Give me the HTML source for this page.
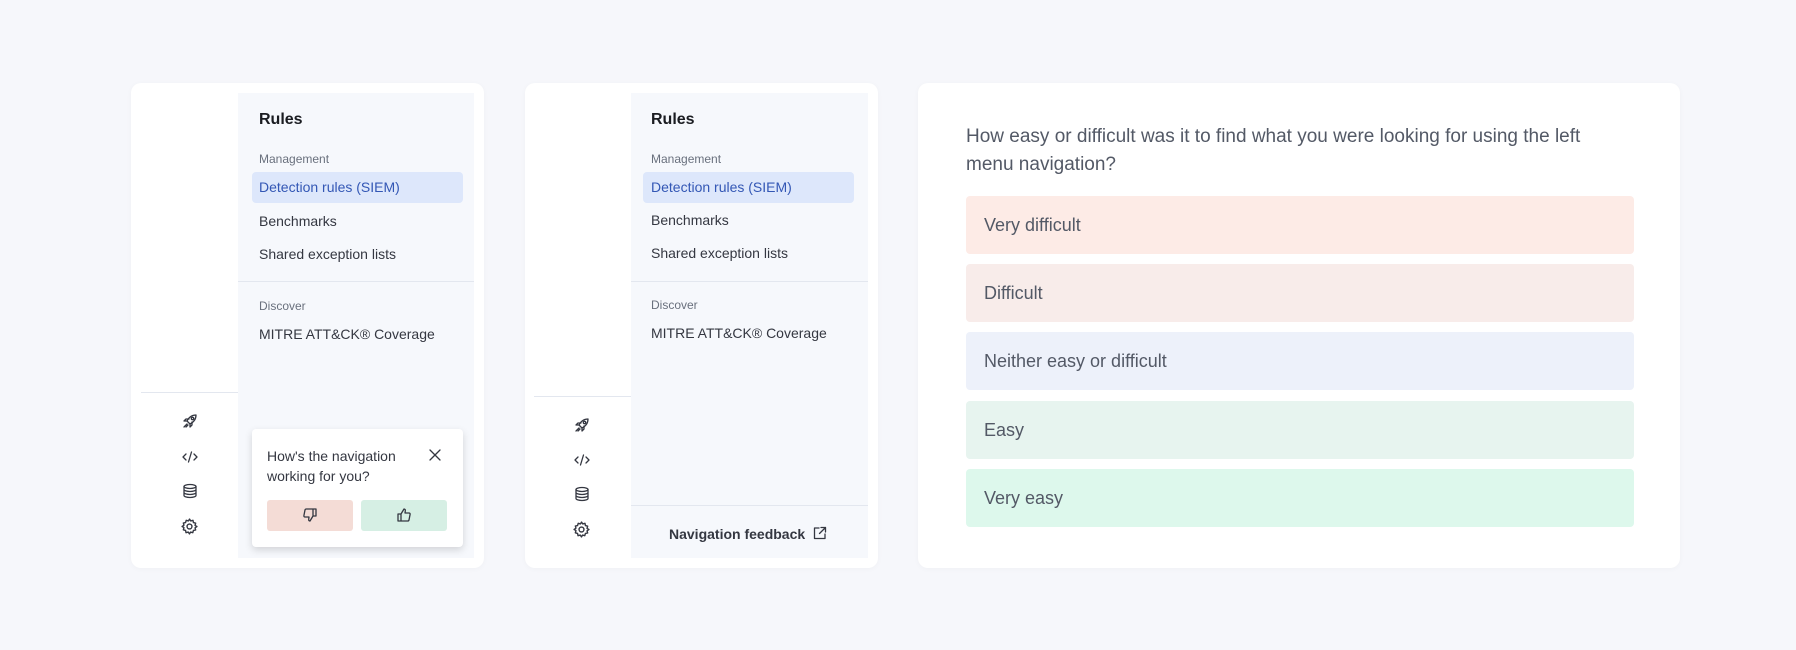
<!DOCTYPE html>
<html><head><meta charset="utf-8"><style>
*{box-sizing:border-box;margin:0;padding:0}
body{width:1796px;height:650px;background:#f6f7fb;font-family:"Liberation Sans",sans-serif;position:relative;overflow:hidden;color:#343741}
.abs{position:absolute}
.card{position:absolute;background:#fff;border-radius:10px;box-shadow:0 1px 6px rgba(0,0,0,.03)}
.panel{position:absolute;background:#f6f8fc}
.t{position:absolute;white-space:nowrap}
svg.ic{position:absolute;fill:none;stroke:#343741;stroke-width:1.3;stroke-linecap:round;stroke-linejoin:round}
.opt{position:absolute;left:966px;width:668px;height:58px;border-radius:4px;font-size:18px;color:#535966;padding-left:18px;line-height:58px}
</style></head><body>
<!-- card 1 -->
<div class="card" style="left:131px;top:83px;width:353px;height:485px"></div>
<div class="panel" style="left:238px;top:93px;width:236px;height:465px"></div>
<div class="t" style="left:259px;top:111px;font-size:16px;font-weight:bold;color:#1a1c21">Rules</div>
<div class="t" style="left:259px;top:152px;font-size:12px;color:#69707d">Management</div>
<div class="abs" style="left:252px;top:172px;width:211px;height:31px;background:#dde7fb;border-radius:4px"></div>
<div class="t" style="left:259px;top:179px;font-size:14px;color:#3357b5">Detection rules (SIEM)</div>
<div class="t" style="left:259px;top:213px;font-size:14px">Benchmarks</div>
<div class="t" style="left:259px;top:246px;font-size:14px">Shared exception lists</div>
<div class="abs" style="left:238px;top:281px;width:236px;height:1px;background:#e3e7ef"></div>
<div class="t" style="left:259px;top:299px;font-size:12px;color:#69707d">Discover</div>
<div class="t" style="left:259px;top:326px;font-size:14px">MITRE ATT&amp;CK® Coverage</div>
<div class="abs" style="left:141px;top:392px;width:97px;height:1px;background:#e3e7ef"></div>
<svg class="ic" style="left:182px;top:413px" width="16" height="16" viewBox="0 0 16 16"><path d="M14 2C10 2 7 4 5 8l3 3c4-2 6-5 6-9z"/><circle cx="10.5" cy="5.5" r="1.2"/><path d="M5 8H2l2-2h3M8 11v3l2-2V9M2 14l3-3M4 14l2-2"/></svg>
<svg class="ic" style="left:182px;top:449px" width="16" height="16" viewBox="0 0 16 16"><path d="M4 5L1 8l3 3M12 5l3 3-3 3M9.5 3l-3 10"/></svg>
<svg class="ic" style="left:182px;top:483px" width="16" height="16" viewBox="0 0 16 16"><ellipse cx="8" cy="3.5" rx="6" ry="2"/><path d="M2 3.5v9c0 1.1 2.7 2 6 2s6-.9 6-2v-9M2 6.5c0 1.1 2.7 2 6 2s6-.9 6-2M2 9.5c0 1.1 2.7 2 6 2s6-.9 6-2"/></svg>
<svg class="ic" style="left:181px;top:518px" width="17" height="17" viewBox="0 0 16 16"><circle cx="8" cy="8" r="2.3"/><path d="M8 1l1.2 1.8 2.1-.6.4 2.1 2.1.6-.6 2.1L15 8l-1.8 1.2.6 2.1-2.1.4-.6 2.1-2.1-.6L8 15l-1.2-1.8-2.1.6-.4-2.1-2.1-.6.6-2.1L1 8l1.8-1.2-.6-2.1 2.1-.4.6-2.1 2.1.6z"/></svg>
<div class="abs" style="left:252px;top:429px;width:211px;height:118px;background:#fff;border-radius:4px;box-shadow:0 3px 8px rgba(0,0,0,.15)"></div>
<div class="t" style="left:267px;top:446px;font-size:14px;line-height:20px">How's the navigation<br>working for you?</div>
<svg class="ic" style="left:429px;top:449px" width="12" height="12" viewBox="0 0 12 12"><path d="M1 1l10 10M11 1L1 11"/></svg>
<div class="abs" style="left:267px;top:500px;width:86px;height:31px;background:#f4dcd6;border-radius:3px"></div>
<svg class="ic" style="left:302px;top:507px" width="16" height="16" viewBox="0 0 16 16"><path d="M11 2v7M11 2h3v7h-3M11 9l-3 5c-1 0-1.5-.8-1.3-1.8L7 10H3c-.8 0-1.3-.7-1.1-1.4L3 3c.2-.6.7-1 1.3-1H11"/></svg>
<div class="abs" style="left:361px;top:500px;width:86px;height:31px;background:#d6efe4;border-radius:3px"></div>
<svg class="ic" style="left:396px;top:507px" width="16" height="16" viewBox="0 0 16 16"><path d="M5 14V7M5 14H2V7h3M5 7l3-5c1 0 1.5.8 1.3 1.8L9 6h4c.8 0 1.3.7 1.1 1.4L13 13c-.2.6-.7 1-1.3 1H5"/></svg>
<!-- card 2 -->
<div class="card" style="left:525px;top:83px;width:353px;height:485px"></div>
<div class="panel" style="left:631px;top:93px;width:237px;height:465px"></div>
<div class="t" style="left:651px;top:111px;font-size:16px;font-weight:bold;color:#1a1c21">Rules</div>
<div class="t" style="left:651px;top:152px;font-size:12px;color:#69707d">Management</div>
<div class="abs" style="left:643px;top:172px;width:211px;height:31px;background:#dde7fb;border-radius:4px"></div>
<div class="t" style="left:651px;top:179px;font-size:14px;color:#3357b5">Detection rules (SIEM)</div>
<div class="t" style="left:651px;top:212px;font-size:14px">Benchmarks</div>
<div class="t" style="left:651px;top:245px;font-size:14px">Shared exception lists</div>
<div class="abs" style="left:631px;top:281px;width:237px;height:1px;background:#e3e7ef"></div>
<div class="t" style="left:651px;top:298px;font-size:12px;color:#69707d">Discover</div>
<div class="t" style="left:651px;top:325px;font-size:14px">MITRE ATT&amp;CK® Coverage</div>
<div class="abs" style="left:534px;top:396px;width:97px;height:1px;background:#e3e7ef"></div>
<svg class="ic" style="left:574px;top:417px" width="16" height="16" viewBox="0 0 16 16"><path d="M14 2C10 2 7 4 5 8l3 3c4-2 6-5 6-9z"/><circle cx="10.5" cy="5.5" r="1.2"/><path d="M5 8H2l2-2h3M8 11v3l2-2V9M2 14l3-3M4 14l2-2"/></svg>
<svg class="ic" style="left:574px;top:452px" width="16" height="16" viewBox="0 0 16 16"><path d="M4 5L1 8l3 3M12 5l3 3-3 3M9.5 3l-3 10"/></svg>
<svg class="ic" style="left:574px;top:486px" width="16" height="16" viewBox="0 0 16 16"><ellipse cx="8" cy="3.5" rx="6" ry="2"/><path d="M2 3.5v9c0 1.1 2.7 2 6 2s6-.9 6-2v-9M2 6.5c0 1.1 2.7 2 6 2s6-.9 6-2M2 9.5c0 1.1 2.7 2 6 2s6-.9 6-2"/></svg>
<svg class="ic" style="left:573px;top:521px" width="17" height="17" viewBox="0 0 16 16"><circle cx="8" cy="8" r="2.3"/><path d="M8 1l1.2 1.8 2.1-.6.4 2.1 2.1.6-.6 2.1L15 8l-1.8 1.2.6 2.1-2.1.4-.6 2.1-2.1-.6L8 15l-1.2-1.8-2.1.6-.4-2.1-2.1-.6.6-2.1L1 8l1.8-1.2-.6-2.1 2.1-.4.6-2.1 2.1.6z"/></svg>
<div class="abs" style="left:631px;top:505px;width:237px;height:1px;background:#e3e7ef"></div>
<div class="t" style="left:669px;top:526px;font-size:14px;font-weight:bold;color:#343741">Navigation feedback</div>
<svg class="ic" style="left:813px;top:526px" width="14" height="14" viewBox="0 0 14 14"><path d="M6 2H1.5v10.5H12V8M8 1.5h4.5V6M12.5 1.5L6.5 7.5"/></svg>
<!-- card 3 -->
<div class="card" style="left:918px;top:83px;width:762px;height:485px"></div>
<div class="t" style="left:966px;top:123px;font-size:19px;line-height:28px;color:#535966">How easy or difficult was it to find what you were looking for using the left<br>menu navigation?</div>
<div class="opt" style="top:196px;background:#fdebe6">Very difficult</div>
<div class="opt" style="top:264px;background:#f8ecea">Difficult</div>
<div class="opt" style="top:332px;background:#edf1fa">Neither easy or difficult</div>
<div class="opt" style="top:401px;background:#e7f4ef">Easy</div>
<div class="opt" style="top:469px;background:#ddf8ec">Very easy</div>
</body></html>
